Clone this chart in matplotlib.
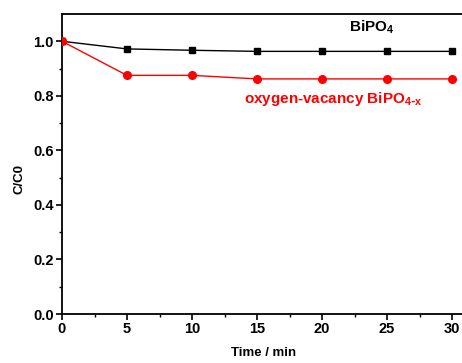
import matplotlib
matplotlib.use("Agg")
import matplotlib.pyplot as plt

plt.rcParams['font.family'] = ['Liberation Sans', 'DejaVu Sans']
plt.rcParams['font.weight'] = 'bold'

time_min = [0, 5, 10, 15, 20, 25, 30]
bipo4 = [1.0, 0.972, 0.967, 0.963, 0.963, 0.963, 0.963]
bipo4_x = [1.0, 0.875, 0.875, 0.862, 0.862, 0.862, 0.862]

fig = plt.figure(figsize=(4.62, 3.63), dpi=100)
ax = fig.add_axes([62 / 462, 49 / 363, 403 / 462, 300 / 363])

ax.plot(time_min, bipo4, '-s', color='black', linewidth=1, markersize=4.5, zorder=3)
ax.plot(time_min, bipo4_x, '-o', color='red', linewidth=1, markersize=5.5, zorder=3)

ax.text(23.8, 1.05, r'BiPO$_\mathregular{4}$', ha='center', va='center',
        fontsize=11, fontweight='bold', color='black')
ax.text(14, 0.79, r'oxygen-vacancy BiPO$_\mathregular{4\text{-}x}$', ha='left', va='center',
        fontsize=11, fontweight='bold', color='red')

ax.set_xlim(0, 31)
ax.set_ylim(0, 1.1)
ax.set_xticks([0, 5, 10, 15, 20, 25, 30])
ax.set_xticks([2.5, 7.5, 12.5, 17.5, 22.5, 27.5], minor=True)
ax.set_yticks([0.0, 0.2, 0.4, 0.6, 0.8, 1.0])
ax.set_yticks([0.1, 0.3, 0.5, 0.7, 0.9], minor=True)
ax.set_yticklabels(['0.0', '0.2', '0.4', '0.6', '0.8', '1.0'])

ax.tick_params(axis='both', which='major', direction='out', length=4, width=1.2,
               labelsize=10.5, pad=2)
ax.tick_params(axis='both', which='minor', direction='out', length=2.5, width=1)
for lab in ax.get_xticklabels() + ax.get_yticklabels():
    lab.set_fontweight('bold')

for spine in ax.spines.values():
    spine.set_linewidth(1.3)

ax.set_xlabel('Time / min', fontsize=9.5, fontweight='bold', labelpad=8)
ax.set_ylabel('C/C0', fontsize=9.5, fontweight='bold')
ax.yaxis.set_label_coords(-0.09, 0.45)

fig.savefig('out.png', dpi=100)
